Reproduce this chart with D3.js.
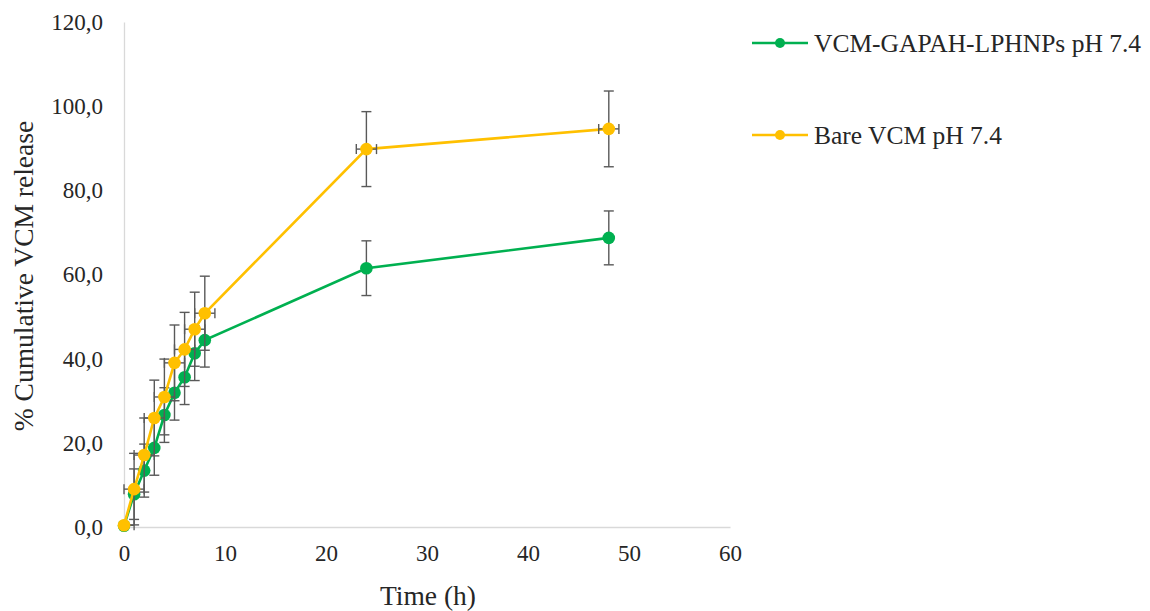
<!DOCTYPE html>
<html>
<head>
<meta charset="utf-8">
<script src="https://cdn.jsdelivr.net/npm/d3@7"></script>
<style>
body { margin: 0; background: #fff; }
svg { font-family: "Liberation Serif", "Times New Roman", serif; }
</style>
</head>
<body>
<div id="chart"></div>
<script>
// time points (h)
var times = [0, 1, 2, 3, 4, 5, 6, 7, 8, 24, 48];

// VCM-GAPAH-LPHNPs pH 7.4
var greenVals = [0.3, 7.8, 13.4, 18.8, 26.6, 31.9, 35.6, 41.3, 44.4, 61.5, 68.7];
var greenErr  = [0.5, 6.0, 6.3, 6.5, 6.5, 6.5, 6.5, 6.5, 6.4, 6.5, 6.4];

// Bare VCM pH 7.4
var yellowVals = [0.4, 9.0, 17.1, 25.9, 30.9, 39.0, 42.2, 47.0, 50.8, 89.8, 94.6];
var yellowErr  = [0.5, 8.5, 8.8, 9.0, 9.0, 9.0, 8.8, 8.8, 8.8, 8.9, 9.0];
var yellowXErr = [1, 1, 1, 1, 1, 1, 1, 1, 1, 1, 1];

var xTicks = [0, 10, 20, 30, 40, 50, 60];
var yTicks = [0, 20, 40, 60, 80, 100, 120];

var series = [
  {name: "VCM-GAPAH-LPHNPs pH 7.4", color: "#00b050", vals: greenVals, err: greenErr, xerr: null},
  {name: "Bare VCM pH 7.4", color: "#ffc000", vals: yellowVals, err: yellowErr, xerr: yellowXErr}
];

var W = 1150, H = 611;
var svg = d3.select("#chart").append("svg").attr("width", W).attr("height", H);

var x = d3.scaleLinear().domain([0, 60]).range([124, 730]);
var y = d3.scaleLinear().domain([0, 120]).range([527, 22]);

var errColor = "#595959";
var txtColor = "#262626";

// axes
var xAxis = svg.append("g").attr("transform", "translate(0," + y(0) + ")")
  .call(d3.axisBottom(x).tickValues(xTicks).tickSize(0).tickPadding(18).tickFormat(d3.format("d")));
var yAxis = svg.append("g").attr("transform", "translate(" + x(0) + ",0)")
  .call(d3.axisLeft(y).tickValues(yTicks).tickSize(0).tickPadding(21)
    .tickFormat(function(d){ return d.toFixed(1).replace(".", ","); }));
[xAxis, yAxis].forEach(function(g){
  g.select(".domain").attr("stroke", "#d9d9d9").attr("stroke-width", 1.3);
  g.selectAll("text").attr("font-family", "Liberation Serif, serif")
    .attr("font-size", 23).attr("fill", txtColor);
});

// axis titles
svg.append("text").attr("x", 428).attr("y", 605).attr("text-anchor", "middle")
  .attr("font-size", 27.5).attr("fill", txtColor).text("Time (h)");
svg.append("text").attr("transform", "translate(33,276) rotate(-90)")
  .attr("text-anchor", "middle").attr("font-size", 27.5).attr("fill", txtColor)
  .text("% Cumulative VCM release");

var line = d3.line().x(function(d){ return x(d[0]); }).y(function(d){ return y(d[1]); });

series.forEach(function(s){
  var pts = times.map(function(t, i){ return [t, s.vals[i], s.err[i], s.xerr ? s.xerr[i] : 0]; });
  var g = svg.append("g");

  g.append("path").datum(pts).attr("d", line).attr("fill", "none")
    .attr("stroke", s.color).attr("stroke-width", 2.6);

  // error bars
  var eb = g.append("g").attr("stroke", errColor).attr("stroke-width", 1.4);
  pts.forEach(function(p){
    var cx = x(p[0]), y1 = y(p[1] + p[2]), y2 = y(Math.max(0, p[1] - p[2]));
    eb.append("line").attr("x1", cx).attr("x2", cx).attr("y1", y1).attr("y2", y2);
    eb.append("line").attr("x1", cx - 5).attr("x2", cx + 5).attr("y1", y1).attr("y2", y1);
    eb.append("line").attr("x1", cx - 5).attr("x2", cx + 5).attr("y1", y2).attr("y2", y2);
    if (p[3]) {
      var cy = y(p[1]), x1 = x(Math.max(0, p[0] - p[3])), x2 = x(p[0] + p[3]);
      eb.append("line").attr("x1", x1).attr("x2", x2).attr("y1", cy).attr("y2", cy);
      eb.append("line").attr("x1", x1).attr("x2", x1).attr("y1", cy - 5).attr("y2", cy + 5);
      eb.append("line").attr("x1", x2).attr("x2", x2).attr("y1", cy - 5).attr("y2", cy + 5);
    }
  });

  g.selectAll("circle").data(pts).enter().append("circle")
    .attr("cx", function(d){ return x(d[0]); })
    .attr("cy", function(d){ return y(d[1]); })
    .attr("r", 6.3).attr("fill", s.color);
});

// legend
var legend = svg.append("g");
series.forEach(function(s, i){
  var ly = 43 + i * 92;
  legend.append("line").attr("x1", 752).attr("x2", 808).attr("y1", ly).attr("y2", ly)
    .attr("stroke", s.color).attr("stroke-width", 2.6);
  legend.append("circle").attr("cx", 780).attr("cy", ly).attr("r", 5).attr("fill", s.color);
  legend.append("text").attr("x", 814).attr("y", ly + 8.5).attr("font-size", 25.5)
    .attr("fill", txtColor).text(s.name);
});
</script>
</body>
</html>
